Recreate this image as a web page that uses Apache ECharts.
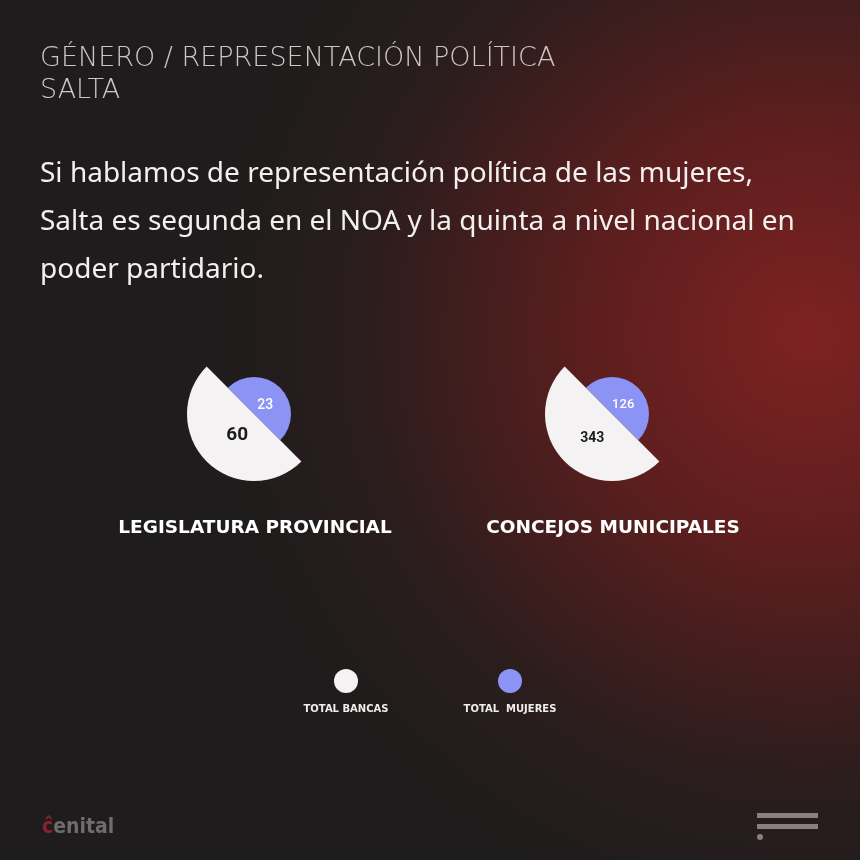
<!DOCTYPE html>
<html>
<head>
<meta charset="utf-8">
<script src="https://cdn.jsdelivr.net/npm/echarts@6/dist/echarts.min.js"></script>
<style>
  html, body { margin: 0; padding: 0; background: #1e1c1c; }
  #chart { width: 860px; height: 860px; }
</style>
</head>
<body>
<div id="chart"></div>
<script>
// ---- data ----
var categories = ['LEGISLATURA PROVINCIAL', 'CONCEJOS MUNICIPALES'];
var totalBancas = [60, 343];
var totalMujeres = [23, 126];
var seriesNames = ['TOTAL BANCAS', 'TOTAL  MUJERES'];
var headerLines = ['GÉNERO / REPRESENTACIÓN POLÍTICA', 'SALTA'];
var bodyLines = [
  'Si hablamos de representación política de las mujeres,',
  'Salta es segunda en el NOA y la quinta a nivel nacional en',
  'poder partidario.'
];

var WHITE = '#f4f2f2';
var PURPLE = '#8b93f4';
var colors = [WHITE, PURPLE];
var centers = [[254, 414], [612, 414]];
var labelSizesBig = [19, 14];
var labelSizesSmall = [14, 13];
var bigPad = [[0, 0, 0, 18], [0, 0, 0, 12]];
var smallPad = [[0, 8, 0, 0], [0, 8, 0, 0]];
// vertical nudges (blank line before/after + line height)
var bigFmt = ['{c}\n', '{c}\n'];
var bigLH = [10, 2];
var smallFmt = ['\n{c}', '\n{c}'];
var smallLH = [14, 12];

var chart = echarts.init(document.getElementById('chart'), null, { renderer: 'canvas' });

var series = [];
categories.forEach(function (cat, i) {
  series.push({
    type: 'pie',
    name: seriesNames[0],
    center: centers[i],
    radius: [0, 67],
    startAngle: 315,
    endAngle: 135,
    clockwise: true,
    silent: true,
    z: 3,
    itemStyle: { color: WHITE },
    label: {
      show: true,
      position: 'inside',
      formatter: bigFmt[i],
      color: '#1c1c1c',
      fontFamily: 'Roboto',
      fontWeight: 'bold',
      fontSize: labelSizesBig[i],
      lineHeight: bigLH[i],
      padding: bigPad[i]
    },
    labelLine: { show: false },
    data: [{ name: cat, value: totalBancas[i] }]
  });
  series.push({
    type: 'pie',
    name: seriesNames[1],
    center: centers[i],
    radius: [0, 37],
    startAngle: 135,
    endAngle: -45,
    clockwise: true,
    silent: true,
    z: 2,
    itemStyle: { color: PURPLE },
    label: {
      show: true,
      position: 'inside',
      formatter: smallFmt[i],
      color: '#ffffff',
      fontFamily: 'Roboto',
      fontWeight: 500,
      fontSize: labelSizesSmall[i],
      lineHeight: smallLH[i],
      padding: smallPad[i]
    },
    labelLine: { show: false },
    data: [{ name: cat, value: totalMujeres[i] }]
  });
});

var titles = [
  {
    left: 40, top: 43, padding: 0,
    text: headerLines.join('\n'),
    textStyle: { color: '#cdc6c6', fontFamily: 'DejaVu Sans', fontWeight: 200, fontSize: 27, lineHeight: 32 }
  },
  {
    left: 40, top: 150, padding: 0,
    text: bodyLines.join('\n'),
    textStyle: { color: '#f3f0f0', fontFamily: 'Noto Sans', fontWeight: 'normal', fontSize: 28, lineHeight: 48 }
  }
];
categories.forEach(function (cat, i) {
  titles.push({
    left: centers[i][0] + 1, top: 519, textAlign: 'center', padding: 0,
    text: cat,
    textStyle: { color: '#ffffff', fontFamily: 'DejaVu Sans', fontWeight: 'bold', fontSize: 18.5 }
  });
});

var legendX = [346, 510];
var graphics = [
  {
    type: 'rect', z: -10, silent: true,
    shape: { x: 0, y: 0, width: 860, height: 860 },
    style: {
      fill: {
        type: 'radial', x: 0.94, y: 0.39, r: 0.7, global: false,
        colorStops: [
          { offset: 0, color: '#7e2222' },
          { offset: 0.35, color: '#5e1e1e' },
          { offset: 0.75, color: '#2a1d1d' },
          { offset: 1, color: '#1e1c1c' }
        ]
      }
    }
  }
];
seriesNames.forEach(function (n, i) {
  graphics.push({
    type: 'circle', silent: true,
    shape: { cx: legendX[i], cy: 681, r: 12 },
    style: { fill: colors[i] }
  });
  graphics.push({
    type: 'text', silent: true,
    x: legendX[i], y: 709,
    style: {
      text: n, fill: '#f0eded', align: 'center', verticalAlign: 'middle',
      font: 'bold 10px "DejaVu Sans"'
    }
  });
});
// logo
graphics.push({
  type: 'text', silent: true, x: 42, y: 828,
  style: {
    text: '{a|ĉ}{b|enital}',
    verticalAlign: 'middle',
    rich: {
      a: { fill: '#8a2230', font: 'bold 21px "DejaVu Sans Condensed", "DejaVu Sans"' },
      b: { fill: '#6e6c6c', font: 'bold 21px "DejaVu Sans Condensed", "DejaVu Sans"' }
    }
  }
});
// menu icon
graphics.push({ type: 'rect', silent: true, shape: { x: 757, y: 813, width: 61, height: 5 }, style: { fill: '#8a8080' } });
graphics.push({ type: 'rect', silent: true, shape: { x: 757, y: 824, width: 61, height: 5 }, style: { fill: '#8a8080' } });
graphics.push({ type: 'circle', silent: true, shape: { cx: 760, cy: 837, r: 3 }, style: { fill: '#8a8080' } });

chart.setOption({
  backgroundColor: 'transparent',
  animation: false,
  title: titles,
  graphic: graphics,
  series: series
});
</script>
</body>
</html>
